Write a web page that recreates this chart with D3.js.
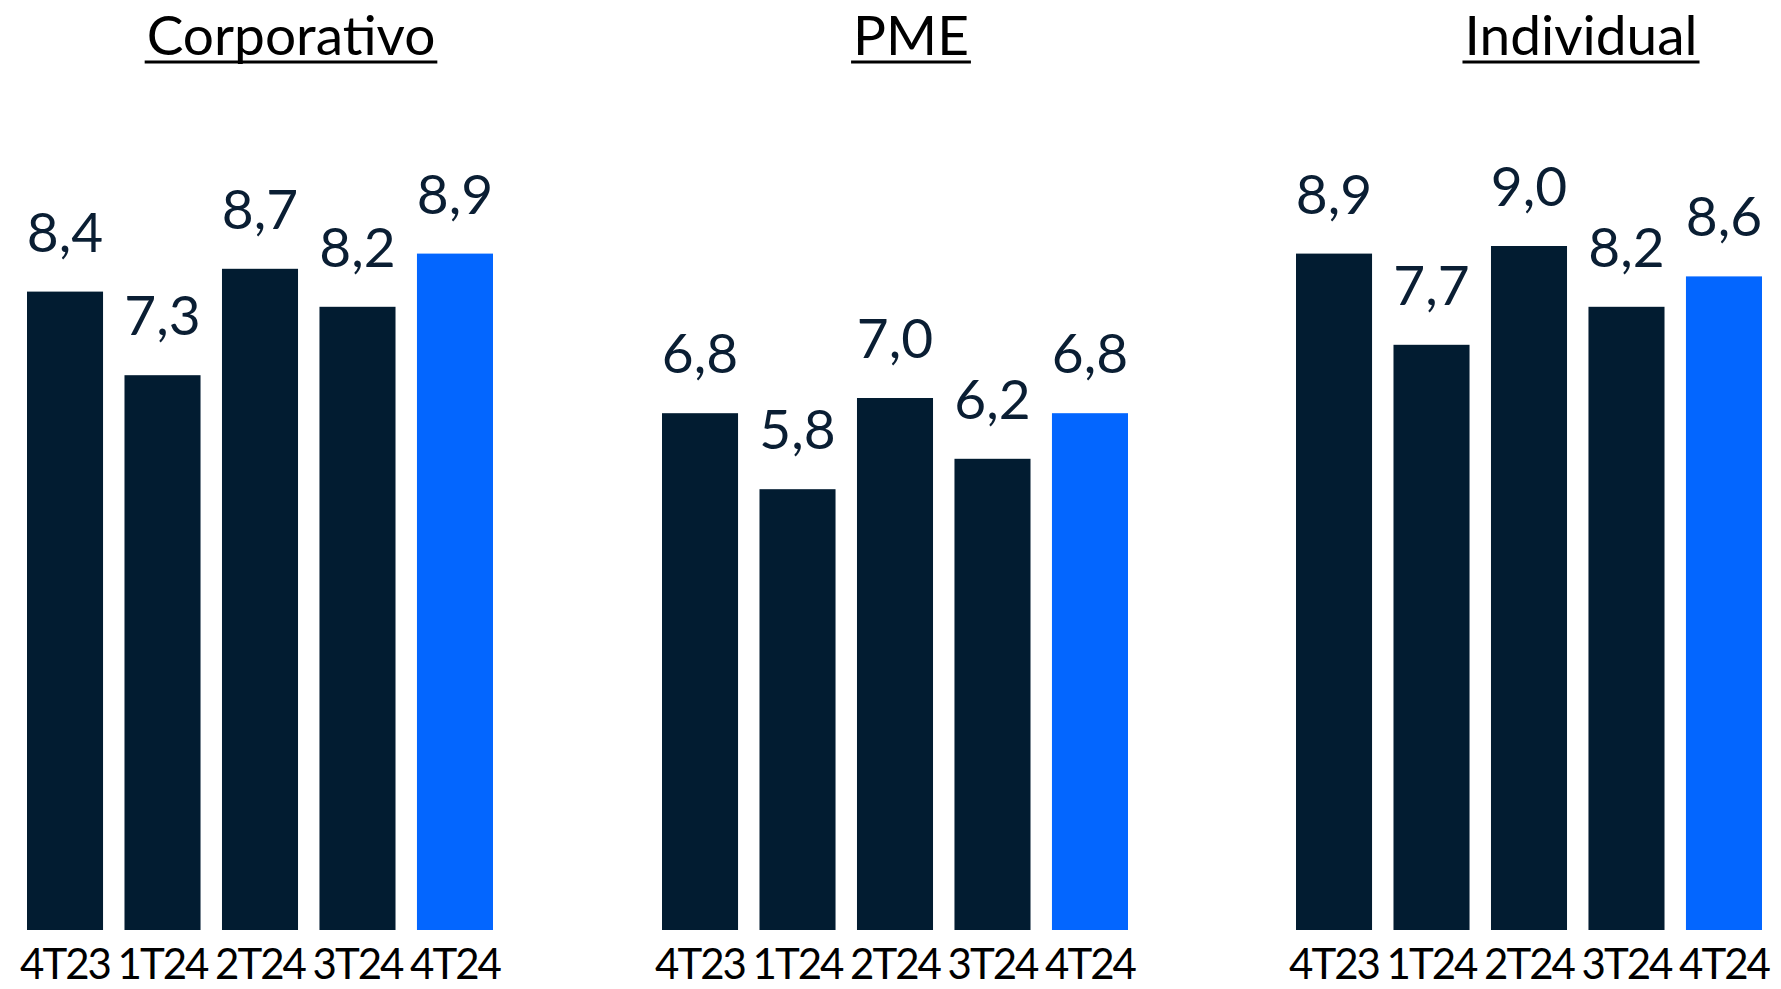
<!DOCTYPE html>
<html>
<head>
<meta charset="utf-8">
<script src="https://cdn.jsdelivr.net/npm/d3@7"></script>
<style>
html,body{margin:0;padding:0;background:#fff;}
svg{display:block;}
text{font-family:"Source Sans Pro",Lato,"Noto Sans",sans-serif;}
</style>
</head>
<body>
<svg id="chart" width="1781" height="989"></svg>
<script>
const quarters = ["4T23","1T24","2T24","3T24","4T24"];
const segments = ["Corporativo","PME","Individual"];
const corporativo = [8.4, 7.3, 8.7, 8.2, 8.9];
const pme = [6.8, 5.8, 7.0, 6.2, 6.8];
const individual = [8.9, 7.7, 9.0, 8.2, 8.6];
const seriesValues = [corporativo, pme, individual];

const svg = d3.select("#chart");
const dark = "#021c31", blue = "#0366ff";

const y = d3.scaleLinear().domain([0, 10]).range([930, 170]);
const groupRanges = [[27, 493], [662, 1128], [1296, 1762]];
const titleCenters = [291, 911, 1581];

segments.forEach((seg, gi) => {
  const vals = seriesValues[gi];
  const x = d3.scaleBand().domain(quarters).range(groupRanges[gi]).paddingInner(0.22).paddingOuter(0);
  const g = svg.append("g");
  const data = quarters.map((q, i) => ({q, v: vals[i], last: i === quarters.length - 1}));

  g.selectAll("rect").data(data).join("rect")
    .attr("x", d => x(d.q))
    .attr("y", d => y(d.v))
    .attr("width", x.bandwidth())
    .attr("height", d => y(0) - y(d.v))
    .attr("fill", d => d.last ? blue : dark);

  g.selectAll("text.val").data(data).join("text")
    .attr("class", "val")
    .attr("x", d => x(d.q) + x.bandwidth() / 2)
    .attr("y", d => y(d.v) - 40)
    .attr("text-anchor", "middle")
    .attr("font-size", 55)
    .attr("fill", "#0a1e33")
    .text(d => d3.format(".1f")(d.v).replace(".", ","));

  const axis = d3.axisBottom(x).tickSize(0).tickPadding(0);
  const ag = g.append("g").attr("transform", `translate(0,${y(0)})`).call(axis);
  ag.select(".domain").remove();
  ag.selectAll("text")
    .attr("dy", null)
    .attr("y", 49)
    .attr("font-size", 42)
    .attr("letter-spacing", "-2px")
    .attr("fill", "#000")
    .style("font-family", "'Source Sans Pro',Lato,'Noto Sans',sans-serif");

  const t = svg.append("text")
    .attr("x", titleCenters[gi])
    .attr("y", 55)
    .attr("text-anchor", "middle")
    .attr("font-size", 55)
    .attr("fill", "#000")
    .text(seg);
  const bb = t.node().getBBox();
  svg.append("line")
    .attr("x1", bb.x - 2).attr("x2", bb.x + bb.width + 2)
    .attr("y1", 62).attr("y2", 62)
    .attr("stroke", "#000").attr("stroke-width", 3);
});
</script>
</body>
</html>
